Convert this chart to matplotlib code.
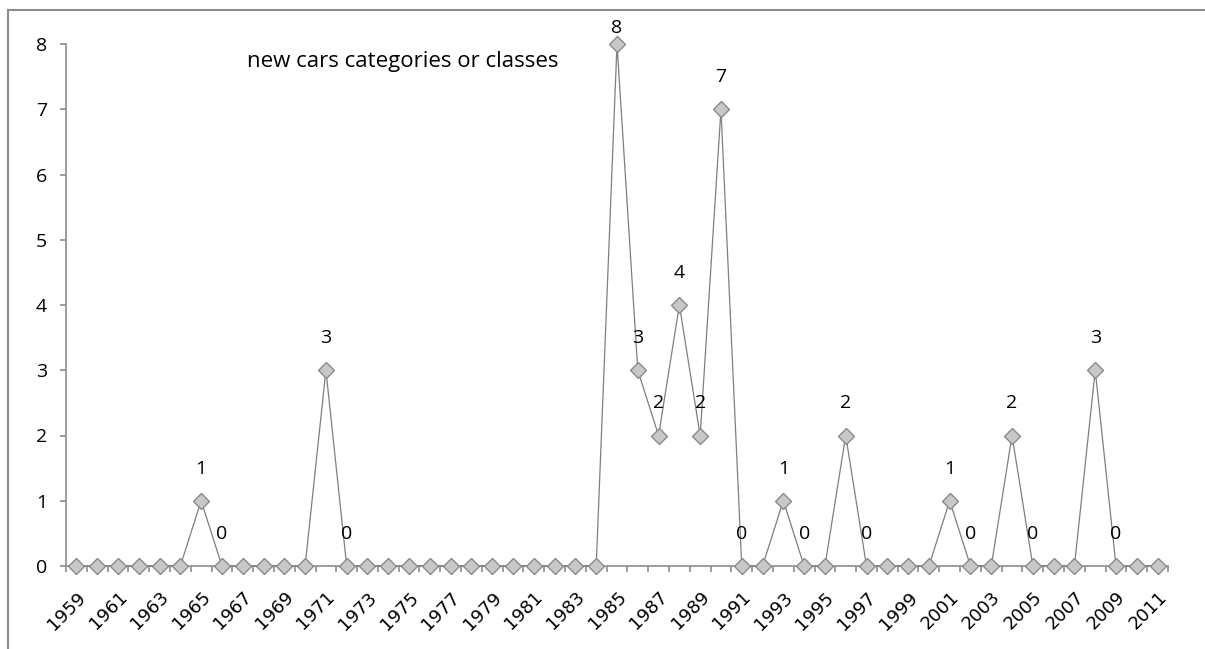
import numpy as np
import matplotlib
matplotlib.use('Agg')
import matplotlib.pyplot as plt
from matplotlib.patches import Rectangle

# years and number of new classes per year
years = list(range(1959, 2012))
counts = [0, 0, 0, 0, 0, 0, 1, 0, 0, 0, 0, 0, 3, 0, 0, 0, 0, 0, 0, 0,
          0, 0, 0, 0, 0, 0, 8, 3, 2, 4, 2, 7, 0, 0, 1, 0, 0, 2, 0, 0,
          0, 0, 1, 0, 0, 2, 0, 0, 0, 3, 0, 0, 0]
# years that carry a data label in the original chart
labelled = [1965, 1966, 1971, 1972, 1985, 1986, 1987, 1988, 1989, 1990,
            1991, 1993, 1994, 1996, 1997, 2001, 2002, 2004, 2005, 2008, 2009]
tick_years = years[::2]

plt.rcParams['font.family'] = ['Open Sans', 'DejaVu Sans']
axis_col = '#8c8c8c'
fs = 14

fig = plt.figure(figsize=(12.05, 6.49), dpi=100)
W, H = 1205, 649
ax = fig.add_axes([66 / W, 1 - 566 / H, (1168 - 66) / W, (566 - 44) / H])

x = np.arange(len(years))
ax.plot(x, counts, color='#7f7f7f', lw=0.9, marker='D', ms=8,
        mfc='#c8c8c8', mec='#8a8a8a', mew=1.0, clip_on=False, zorder=3)

ymax = 8
for yr in labelled:
    i = years.index(yr)
    off = 16 if counts[i] == ymax else 32  # top label squeezed under the border
    ax.annotate(str(counts[i]), (x[i], counts[i]), xytext=(0, off),
                textcoords='offset pixels', ha='center', va='center',
                fontsize=fs)

ax.set_xlim(-0.5, len(years) - 0.5)
ax.set_ylim(0, ymax)
ax.set_yticks(range(0, ymax + 1))
ax.tick_params(axis='y', length=4.5, width=1.2, color=axis_col, labelsize=fs, pad=9)

ax.set_xticks([years.index(t) for t in tick_years])
ax.set_xticklabels([str(t) for t in tick_years], rotation=45, ha='right',
                   rotation_mode='anchor', fontsize=13, family='DejaVu Sans')
ax.set_xticks(np.arange(-0.5, len(years), 1), minor=True)
ax.tick_params(axis='x', which='major', length=0, pad=16)
ax.tick_params(axis='x', which='minor', length=4.5, width=1.2, color=axis_col)

for s in ['top', 'right']:
    ax.spines[s].set_visible(False)
for s in ['left', 'bottom']:
    ax.spines[s].set_color(axis_col)
    ax.spines[s].set_linewidth(1.2)

fig.text(247 / W, 1 - 61 / H, 'new cars categories or classes', fontsize=16,
         ha='left', va='center')

# caption above the chart, mostly cut off at the top edge
fig.text(4 / W, 1 + 6 / H, 'Figure 1: Total numbers of new cars classes or categories',
         fontsize=fs, ha='left', va='baseline')

# chart area border
fig.patches.append(Rectangle((8 / W, -0.2), 1.5, 1.2 - 10 / H,
                             transform=fig.transFigure, fill=False,
                             edgecolor='#8c8c8c', lw=1.5))

fig.savefig('out.png', dpi=100)
